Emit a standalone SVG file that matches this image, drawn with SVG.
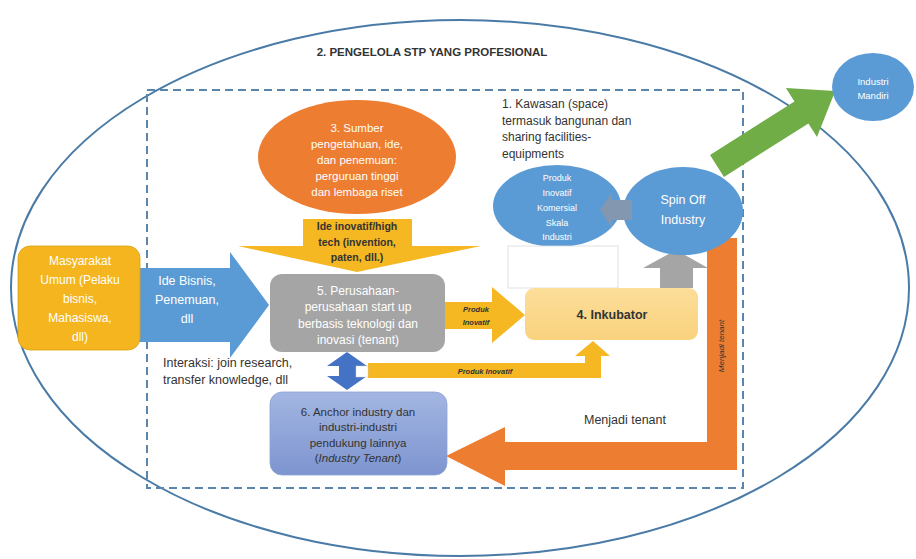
<svg xmlns="http://www.w3.org/2000/svg" width="916" height="559" viewBox="0 0 916 559">
<defs>
<linearGradient id="g6" x1="0" y1="0" x2="0" y2="1"><stop offset="0" stop-color="#A3B6E2"/><stop offset="1" stop-color="#7D94CF"/></linearGradient>
<linearGradient id="gInk" x1="0" y1="0" x2="0" y2="1"><stop offset="0" stop-color="#FCDE9A"/><stop offset="1" stop-color="#F9D27E"/></linearGradient>
<style>
text{font-family:"Liberation Sans",Arial,sans-serif;text-anchor:middle}
.w{fill:#ffffff}
.d{fill:#333333}
.b{font-weight:bold}
.i{font-style:italic}
</style>
</defs>
<rect width="916" height="559" fill="#ffffff"/>

<g id="outer">
<ellipse cx="460" cy="288" rx="449" ry="268" fill="none" stroke="#4A7BA7" stroke-width="2"/>
<rect x="147" y="90" width="596" height="398" fill="none" stroke="#5A86AD" stroke-width="2" stroke-dasharray="8 5"/>
<text x="432" y="56" class="d b" font-size="11.5">2. PENGELOLA STP YANG PROFESIONAL</text>
</g>

<g id="connectors">
<polygon transform="translate(717,166) rotate(-32.4)" points="0,-13 100,-13 100,-29 140,0 100,29 100,13 0,13" fill="#70AD47"/>
<polygon points="138,268 230,268 230,252 269,305 230,358 230,342 138,342" fill="#5B9BD5"/>
<text x="187" y="285" class="w" font-size="12.5">Ide Bisnis,</text>
<text x="187" y="304" class="w" font-size="12.5">Penemuan,</text>
<text x="187" y="323" class="w" font-size="12.5">dll</text>
<polygon points="303,219 412,219 412,246 481,246 357,272 238,246 303,246" fill="#F5B722"/>
<text x="357" y="230" class="d b" font-size="10.5">Ide inovatif/high</text>
<text x="357" y="246" class="d b" font-size="10.5">tech (invention,</text>
<text x="357" y="261" class="d b" font-size="10.5">paten, dll.)</text>
<polygon points="445,302 492,302 492,287 525,315 492,343 492,329 445,329" fill="#F5B722"/>
<text x="476" y="312" class="d b i" font-size="7.5">Produk</text>
<text x="476" y="325" class="d b i" font-size="7.5">Inovatif</text>
<polygon points="368,363 585,363 585,356 575,356 593,341 610,356 601,356 601,378 368,378" fill="#F5B722"/>
<text x="485" y="374" class="d b i" font-size="7.5">Produk Inovatif</text>
<polygon points="347,352 367,366 356,366 356,376 367,376 347,390 327,376 339,376 339,366 327,366" fill="#4472C4"/>
<rect x="356" y="366" width="12" height="11" fill="#ffffff" stroke="#d0d0d0" stroke-width="0.5"/>
<polygon points="660,288 693,288 693,268 708,268 676,250 643,268 660,268" fill="#A5A5A5"/>
<polygon points="707,238 737,238 737,470 505,470 505,486 446,456 505,427 505,442 707,442" fill="#ED7D31"/>
<text transform="translate(724,346) rotate(-90)" class="d i" font-size="8">Menjadi tenant</text>
<text x="625" y="424" class="d" font-size="12.5">Menjadi tenant</text>
</g>

<g id="n-masyarakat">
<rect x="18" y="246" width="122" height="104" rx="12" fill="#F4B51F" stroke="#D9A21A" stroke-width="0.8"/>
<text x="80" y="265" class="w" font-size="12">Masyarakat</text>
<text x="80" y="284" class="w" font-size="12">Umum (Pelaku</text>
<text x="80" y="303" class="w" font-size="12">bisnis,</text>
<text x="80" y="322" class="w" font-size="12">Mahasiswa,</text>
<text x="80" y="341" class="w" font-size="12">dll)</text>
</g>

<g id="n-sumber">
<ellipse cx="357" cy="157" rx="99" ry="57" fill="#ED7D31"/>
<text x="357" y="132" class="w" font-size="11.5">3. Sumber</text>
<text x="357" y="148" class="w" font-size="11.5">pengetahuan, ide,</text>
<text x="357" y="164" class="w" font-size="11.5">dan penemuan:</text>
<text x="357" y="180" class="w" font-size="11.5">perguruan tinggi</text>
<text x="357" y="196" class="w" font-size="11.5">dan lembaga riset</text>
</g>

<g id="n-kawasan">
<text x="502" y="108" class="d" font-size="12" style="text-anchor:start">1. Kawasan (space)</text>
<text x="502" y="125" class="d" font-size="12" style="text-anchor:start">termasuk bangunan dan</text>
<text x="502" y="141" class="d" font-size="12" style="text-anchor:start">sharing facilities-</text>
<text x="502" y="158" class="d" font-size="12" style="text-anchor:start">equipments</text>
</g>

<g id="n-produk">
<ellipse cx="557" cy="206" rx="64" ry="41" fill="#5B9BD5"/>
<text x="557" y="181" class="w" font-size="9">Produk</text>
<text x="557" y="196" class="w" font-size="9">Inovatif</text>
<text x="557" y="211" class="w" font-size="9">Komersial</text>
<text x="557" y="226" class="w" font-size="9">Skala</text>
<text x="557" y="240" class="w" font-size="9">Industri</text>
</g>

<g id="n-spinoff">
<ellipse cx="683" cy="211" rx="60" ry="44" fill="#5B9BD5"/>
<text x="683" y="204" class="w" font-size="12.5">Spin Off</text>
<text x="683" y="224" class="w" font-size="12.5">Industry</text>
</g>

<g id="connectors-top">
<polygon points="632,200 612,200 612,192 600,210 612,228 612,220 632,220" fill="#8497B0"/>
</g>

<g id="n-mandiri">
<ellipse cx="873" cy="87" rx="41" ry="34" fill="#5B9BD5"/>
<text x="873" y="85" class="w" font-size="9.5">Industri</text>
<text x="873" y="99" class="w" font-size="9.5">Mandiri</text>
</g>

<g id="n-blank">
<rect x="508" y="246" width="110" height="42" fill="#ffffff" stroke="#DADADA" stroke-width="0.8"/>
</g>

<g id="n-perusahaan">
<rect x="270" y="274" width="175" height="78" rx="12" fill="#A5A5A5"/>
<text x="358" y="295" class="w" font-size="12">5. Perusahaan-</text>
<text x="358" y="311" class="w" font-size="12">perusahaan start up</text>
<text x="358" y="328" class="w" font-size="12">berbasis teknologi dan</text>
<text x="358" y="344" class="w" font-size="12">inovasi (tenant)</text>
</g>

<g id="n-inkubator">
<rect x="525" y="288" width="173" height="52" rx="9" fill="url(#gInk)"/>
<text x="612" y="319" class="d b" font-size="12.5">4. Inkubator</text>
</g>

<g id="n-interaksi">
<text x="163" y="367" class="d" font-size="12.5" style="text-anchor:start">Interaksi: join research,</text>
<text x="163" y="384" class="d" font-size="12.5" style="text-anchor:start">transfer knowledge, dll</text>
</g>

<g id="n-anchor">
<rect x="270" y="392" width="177" height="83" rx="12" fill="url(#g6)" stroke="#8EA2D4" stroke-width="0.8"/>
<text x="358" y="416" class="d" font-size="11.5">6. Anchor industry dan</text>
<text x="358" y="431" class="d" font-size="11.5">industri-industri</text>
<text x="358" y="447" class="d" font-size="11.5">pendukung lainnya</text>
<text x="358" y="462" class="d" font-size="11.5">(<tspan class="i">Industry Tenant</tspan>)</text>
</g>
</svg>
